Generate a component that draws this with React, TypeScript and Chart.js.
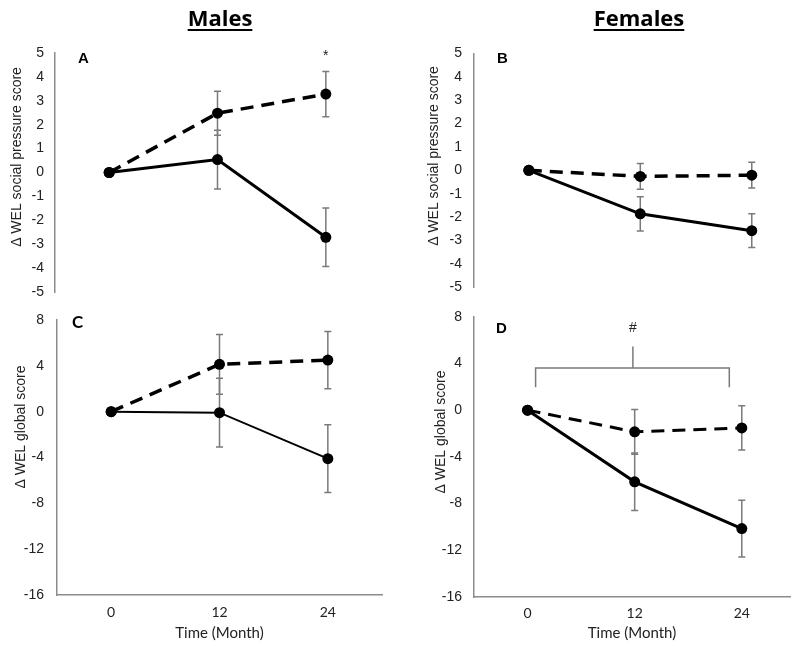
import React, { useEffect, useRef } from "react";
import { Chart, registerables } from "chart.js";

Chart.register(...registerables);

// ---------- DATA ----------
const months = [0, 12, 24];
const xTickLabels = ["0", "12", "24"];

// A: Males, Δ WEL social pressure score
const aDashed = [0, 2.48, 3.28];
const aDashedErr = [0, 0.92, 0.95];
const aSolid = [0, 0.54, -2.71];
const aSolidErr = [0, 1.23, 1.22];

// B: Females, Δ WEL social pressure score
const bDashed = [0, -0.26, -0.21];
const bDashedErr = [0, 0.55, 0.55];
const bSolid = [0, -1.86, -2.58];
const bSolidErr = [0, 0.73, 0.72];

// C: Males, Δ WEL global score
const cDashed = [0, 4.13, 4.5];
const cDashedErr = [0, 2.6, 2.5];
const cSolid = [0, -0.09, -4.1];
const cSolidErr = [0, 3.0, 2.95];

// D: Females, Δ WEL global score
const dDashed = [0, -1.86, -1.52];
const dDashedErr = [0, 1.92, 1.9];
const dSolid = [0, -6.14, -10.14];
const dSolidErr = [0, 2.46, 2.43];

// significance marks
const aStar = { text: "*", x: 24, y: 4.7 };
const dHash = { text: "#", x: 11.8, y: 6.7 };
const dBracketX = [0.9, 22.6];
const dBracketY = 3.6;
const dBracketFoot = 1.95;
const dBracketStemX = 11.8;
const dBracketStemTop = 5.45;

const W = 800;
const H = 647;
const AXIS_COLOR = "#8c8c8c";
const ERR_COLOR = "#7a7a7a";
const TEXT_COLOR = "#222";
const ARIAL = "'Liberation Sans', Arial, sans-serif";
const CALIBRI = "Lato, 'Open Sans', sans-serif";

type Panel = {
  key: string;
  dashed: number[];
  dashedErr: number[];
  solid: number[];
  solidErr: number[];
  dashedWidth: number;
  solidWidth: number;
  area: { left: number; top: number; right: number; bottom: number };
  xMin: number;
  xMax: number;
  yMin: number;
  yMax: number;
  yStep: number;
  tickPad: number;
  showX: boolean;
  xTickPad: number;
  yTitle: string;
  yTitlePos: { x: number; y: number };
  letter: { text: string; x: number; y: number; font: string };
  marks: { text: string; x: number; y: number }[];
  bracket: boolean;
};

const panels: Panel[] = [
  {
    key: "A",
    dashed: aDashed, dashedErr: aDashedErr, solid: aSolid, solidErr: aSolidErr,
    dashedWidth: 3.5, solidWidth: 3,
    area: { left: 55, top: 53, right: 380, bottom: 292 },
    xMin: -6, xMax: 30, yMin: -5, yMax: 5, yStep: 1, tickPad: 11,
    showX: false, xTickPad: 9,
    yTitle: "\u0394 WEL social pressure score", yTitlePos: { x: 17, y: 157 },
    letter: { text: "A", x: 78, y: 62.5, font: `bold 15px ${ARIAL}` },
    marks: [aStar], bracket: false,
  },
  {
    key: "B",
    dashed: bDashed, dashedErr: bDashedErr, solid: bSolid, solidErr: bSolidErr,
    dashedWidth: 3.5, solidWidth: 3,
    area: { left: 474, top: 53.3, right: 795, bottom: 287.3 },
    xMin: -5.9, xMax: 28.6, yMin: -5, yMax: 5, yStep: 1, tickPad: 12,
    showX: false, xTickPad: 9,
    yTitle: "\u0394 WEL social pressure score", yTitlePos: { x: 434, y: 156 },
    letter: { text: "B", x: 497, y: 62.5, font: `bold 15px ${ARIAL}` },
    marks: [], bracket: false,
  },
  {
    key: "C",
    dashed: cDashed, dashedErr: cDashedErr, solid: cSolid, solidErr: cSolidErr,
    dashedWidth: 3.5, solidWidth: 2,
    area: { left: 57, top: 320, right: 382, bottom: 595 },
    xMin: -6, xMax: 30, yMin: -16, yMax: 8, yStep: 4, tickPad: 13,
    showX: true, xTickPad: 9,
    yTitle: "\u0394 WEL global score", yTitlePos: { x: 21, y: 427 },
    letter: { text: "C", x: 72, y: 328, font: `bold 17px ${CALIBRI}` },
    marks: [], bracket: false,
  },
  {
    key: "D",
    dashed: dDashed, dashedErr: dDashedErr, solid: dSolid, solidErr: dSolidErr,
    dashedWidth: 3, solidWidth: 3,
    area: { left: 474, top: 316.7, right: 790, bottom: 597 },
    xMin: -6, xMax: 29.4, yMin: -16, yMax: 8, yStep: 4, tickPad: 12,
    showX: true, xTickPad: 8,
    yTitle: "\u0394 WEL global score", yTitlePos: { x: 441, y: 432 },
    letter: { text: "D", x: 496, y: 333, font: `bold 15px ${ARIAL}` },
    marks: [dHash], bracket: true,
  },
];

// ---------- PLUGINS ----------
const errorBarPlugin = {
  id: "errorBars",
  beforeDatasetsDraw(chart: any) {
    const { ctx } = chart;
    const xs = chart.scales.x;
    const ys = chart.scales.y;
    ctx.save();
    ctx.strokeStyle = ERR_COLOR;
    ctx.lineWidth = 1.5;
    chart.data.datasets.forEach((ds: any) => {
      (ds.data as any[]).forEach((p: any, i: number) => {
        const e = ds.errors ? ds.errors[i] : 0;
        if (!e) return;
        const x = xs.getPixelForValue(p.x);
        const y1 = ys.getPixelForValue(p.y + e);
        const y2 = ys.getPixelForValue(p.y - e);
        ctx.beginPath();
        ctx.moveTo(x, y1);
        ctx.lineTo(x, y2);
        ctx.moveTo(x - 3.5, y1);
        ctx.lineTo(x + 3.5, y1);
        ctx.moveTo(x - 3.5, y2);
        ctx.lineTo(x + 3.5, y2);
        ctx.stroke();
      });
    });
    ctx.restore();
  },
};

const decoPlugin = {
  id: "panelDeco",
  afterDraw(chart: any, _args: any, opts: any) {
    const { ctx } = chart;
    const xs = chart.scales.x;
    const ys = chart.scales.y;
    const p: Panel = opts.panel;
    if (!p) return;
    ctx.save();
    // y-axis title
    ctx.fillStyle = TEXT_COLOR;
    ctx.font = `14px ${ARIAL}`;
    ctx.textAlign = "center";
    ctx.textBaseline = "middle";
    ctx.translate(p.yTitlePos.x, p.yTitlePos.y);
    ctx.rotate(-Math.PI / 2);
    ctx.fillText(p.yTitle, 0, 0);
    ctx.setTransform(1, 0, 0, 1, 0, 0);
    // panel letter
    ctx.font = p.letter.font;
    ctx.textAlign = "left";
    ctx.textBaseline = "alphabetic";
    ctx.fillStyle = "#000";
    ctx.fillText(p.letter.text, p.letter.x, p.letter.y);
    // significance marks
    ctx.font = `14px ${ARIAL}`;
    ctx.textAlign = "center";
    ctx.fillStyle = TEXT_COLOR;
    p.marks.forEach((m) => {
      ctx.fillText(m.text, xs.getPixelForValue(m.x), ys.getPixelForValue(m.y));
    });
    // bracket
    if (p.bracket) {
      ctx.strokeStyle = ERR_COLOR;
      ctx.lineWidth = 1.5;
      const xl = xs.getPixelForValue(dBracketX[0]);
      const xr = xs.getPixelForValue(dBracketX[1]);
      const yb = ys.getPixelForValue(dBracketY);
      const yf = ys.getPixelForValue(dBracketFoot);
      const xm = xs.getPixelForValue(dBracketStemX);
      const yt = ys.getPixelForValue(dBracketStemTop);
      ctx.beginPath();
      ctx.moveTo(xl, yf);
      ctx.lineTo(xl, yb);
      ctx.lineTo(xr, yb);
      ctx.lineTo(xr, yf);
      ctx.moveTo(xm, yb);
      ctx.lineTo(xm, yt);
      ctx.stroke();
    }
    ctx.restore();
  },
};

function buildConfig(p: Panel): any {
  const xH = p.showX ? H - p.area.bottom : 0;
  const yW = p.area.left;
  return {
    type: "line",
    data: {
      datasets: [
        {
          label: "Solid line group",
          data: months.map((m, i) => ({ x: m, y: p.solid[i] })),
          errors: p.solidErr,
          borderColor: "#000",
          backgroundColor: "#000",
          borderWidth: p.solidWidth,
          pointRadius: 5.5,
          pointBorderWidth: 0,
          pointBackgroundColor: "#000",
          tension: 0,
          fill: false,
        },
        {
          label: "Dashed line group",
          data: months.map((m, i) => ({ x: m, y: p.dashed[i] })),
          errors: p.dashedErr,
          borderColor: "#000",
          backgroundColor: "#000",
          borderWidth: p.dashedWidth,
          borderDash: [13, 8],
          pointRadius: 5.5,
          pointBorderWidth: 0,
          pointBackgroundColor: "#000",
          tension: 0,
          fill: false,
        },
      ],
    },
    options: {
      responsive: false,
      animation: false,
      events: [],
      layout: {
        padding: {
          left: p.area.left - yW,
          top: p.area.top,
          right: W - p.area.right,
          bottom: H - p.area.bottom - xH,
        },
      },
      plugins: {
        legend: { display: false },
        tooltip: { enabled: false },
        title: { display: false },
        panelDeco: { panel: p },
      },
      scales: {
        x: {
          type: "linear",
          display: p.showX,
          min: p.xMin,
          max: p.xMax,
          afterBuildTicks: (s: any) => {
            s.ticks = months.map((v) => ({ value: v }));
          },
          afterFit: (s: any) => {
            s.height = xH;
          },
          ticks: {
            callback: (v: any) => {
              const i = months.indexOf(Number(v));
              return i >= 0 ? xTickLabels[i] : "";
            },
            font: { family: CALIBRI, size: 14 },
            color: TEXT_COLOR,
            padding: p.xTickPad,
            maxRotation: 0,
            autoSkip: false,
          },
          grid: { display: false, drawTicks: false },
          border: { display: true, color: AXIS_COLOR, width: 1.5 },
          title: {
            display: true,
            text: "Time (Month)",
            font: { family: CALIBRI, size: 15 },
            color: TEXT_COLOR,
            padding: { top: 0, bottom: 5 },
          },
        },
        y: {
          type: "linear",
          min: p.yMin,
          max: p.yMax,
          afterFit: (s: any) => {
            s.width = yW;
          },
          ticks: {
            stepSize: p.yStep,
            font: { family: ARIAL, size: 14 },
            color: TEXT_COLOR,
            padding: p.tickPad,
          },
          grid: { display: false, drawTicks: false },
          border: { display: true, color: AXIS_COLOR, width: 1.5 },
        },
      },
    },
    plugins: [errorBarPlugin, decoPlugin],
  };
}

function PanelChart({ panel }: { panel: Panel }) {
  const ref = useRef<HTMLCanvasElement | null>(null);
  useEffect(() => {
    if (!ref.current) return;
    const chart = new Chart(ref.current, buildConfig(panel));
    return () => chart.destroy();
  }, [panel]);
  return (
    <canvas
      ref={ref}
      width={W}
      height={H}
      style={{ position: "absolute", left: 0, top: 0, width: W, height: H, display: "block" }}
    />
  );
}

const headStyle: React.CSSProperties = {
  position: "absolute",
  top: 5.5,
  transform: "translateX(-50%)",
  fontFamily: "'Open Sans', sans-serif",
  fontWeight: 700,
  fontSize: 22,
  lineHeight: "22px",
  textDecoration: "underline",
  textDecorationThickness: "2px",
  textUnderlineOffset: "3px",
  color: "#000",
  whiteSpace: "nowrap",
};

export default function App() {
  return (
    <div
      style={{
        position: "absolute",
        left: 0,
        top: 0,
        width: W,
        height: H,
        background: "#fff",
        overflow: "hidden",
      }}
    >
      {panels.map((p) => (
        <PanelChart key={p.key} panel={p} />
      ))}
      <div style={{ ...headStyle, left: 220 }}>Males</div>
      <div style={{ ...headStyle, left: 639 }}>Females</div>
    </div>
  );
}
